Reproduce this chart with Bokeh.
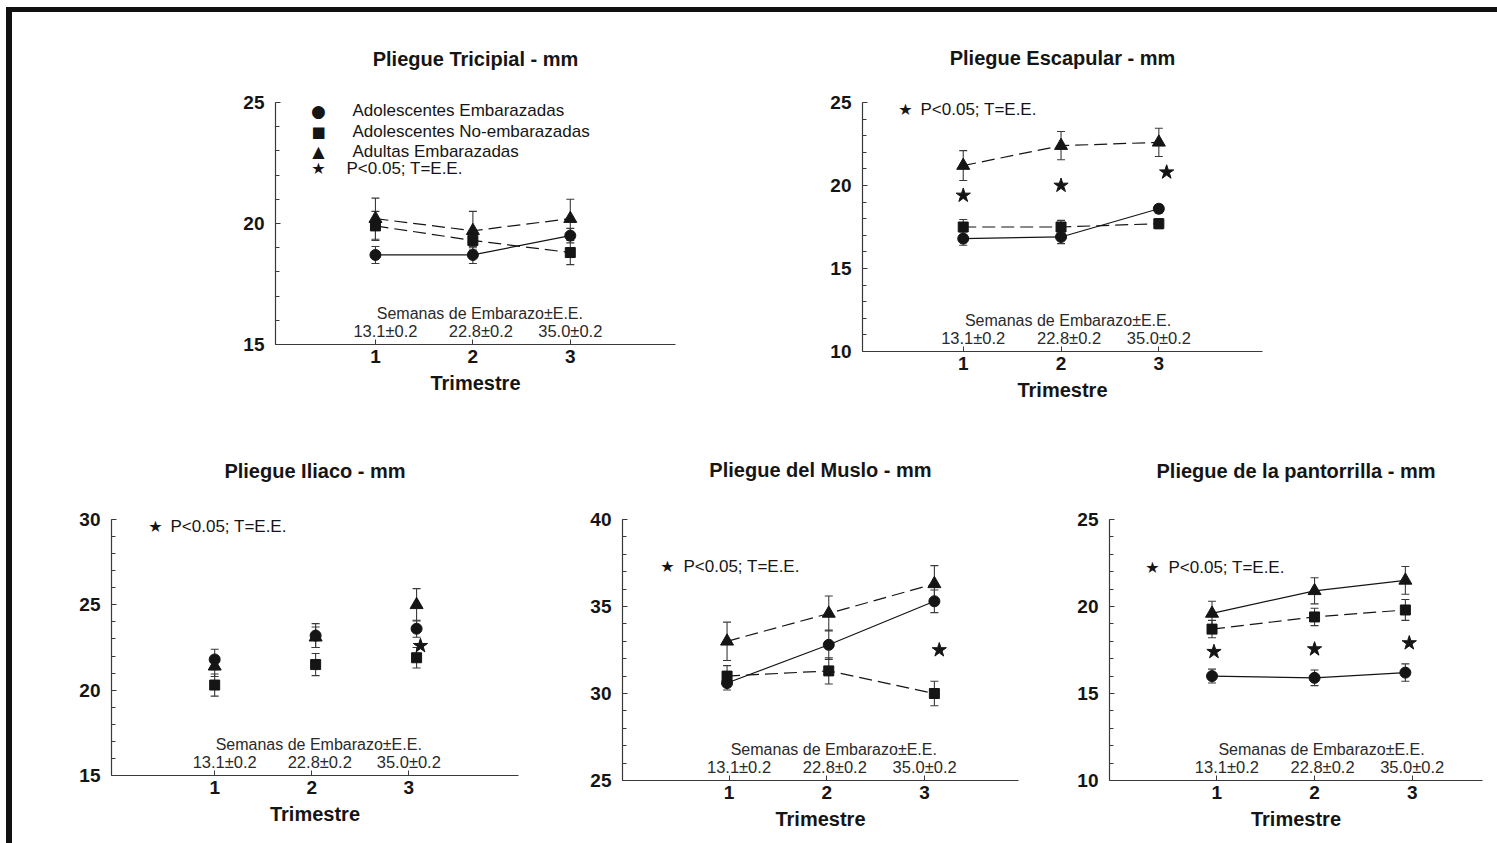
import numpy as np
from bokeh.plotting import figure
from bokeh.models import ColumnDataSource, Range1d, FixedTicker, Whisker, TeeHead, Div
from bokeh.layouts import row, column
from bokeh.core.properties import value
from bokeh.embed import file_html
from bokeh.resources import INLINE

FONT = "Liberation Sans"
SYMBOL_FONT = "DejaVu Sans"
INK = "#151515"
AXIS = "#3a3a3a"

# ---- shared labels ----
trimestre_ticks = [1, 2, 3]
semanas_titulo = "Semanas de Embarazo±E.E."
semanas = ["13.1±0.2", "22.8±0.2", "35.0±0.2"]
grupos = ["Adolescentes Embarazadas", "Adolescentes No-embarazadas", "Adultas Embarazadas"]
nota = "P<0.05; T=E.E."

# ---- Pliegue Tricipial (mm) ----
tri_x = [1, 2, 3]
tri_adol_emb = [18.7, 18.7, 19.5]
tri_adol_emb_ee = [0.35, 0.35, 0.3]
tri_adol_noemb = [19.9, 19.3, 18.8]
tri_adol_noemb_ee = [0.6, 0.3, 0.5]
tri_adultas = [20.2, 19.7, 20.2]
tri_adultas_ee = [0.85, 0.8, 0.8]
tri_sig_x = []
tri_sig_y = []

# ---- Pliegue Escapular (mm) ----
esc_x = [1, 2, 3]
esc_adol_emb = [16.8, 16.9, 18.6]
esc_adol_emb_ee = [0.4, 0.4, 0.25]
esc_adol_noemb = [17.5, 17.5, 17.7]
esc_adol_noemb_ee = [0.45, 0.4, 0.3]
esc_adultas = [21.2, 22.4, 22.6]
esc_adultas_ee = [0.9, 0.85, 0.85]
esc_sig_x = [1.0, 2.0, 3.08]
esc_sig_y = [19.4, 20.0, 20.8]

# ---- Pliegue Iliaco (mm) ----
ili_x = [1.0, 2.04, 3.08]
ili_adol_emb = [21.8, 23.2, 23.6]
ili_adol_emb_ee = [0.6, 0.7, 0.5]
ili_adol_noemb = [20.3, 21.5, 21.9]
ili_adol_noemb_ee = [0.65, 0.65, 0.6]
ili_adultas = [21.4, 23.1, 25.0]
ili_adultas_ee = [0.6, 0.6, 0.95]
ili_sig_x = [3.12]
ili_sig_y = [22.6]

# ---- Pliegue del Muslo (mm) ----
mus_x = [0.98, 2.02, 3.1]
mus_adol_emb = [30.6, 32.8, 35.3]
mus_adol_emb_ee = [0.4, 0.85, 0.65]
mus_adol_noemb = [31.0, 31.3, 30.0]
mus_adol_noemb_ee = [0.6, 0.75, 0.7]
mus_adultas = [33.0, 34.6, 36.3]
mus_adultas_ee = [1.1, 1.0, 1.05]
mus_sig_x = [3.15]
mus_sig_y = [32.5]

# ---- Pliegue de la pantorrilla (mm) ----
pan_x = [0.95, 2.0, 2.93]
pan_adol_emb = [16.0, 15.9, 16.2]
pan_adol_emb_ee = [0.4, 0.45, 0.5]
pan_adol_noemb = [18.7, 19.4, 19.8]
pan_adol_noemb_ee = [0.5, 0.5, 0.6]
pan_adultas = [19.6, 20.9, 21.5]
pan_adultas_ee = [0.7, 0.75, 0.8]
pan_sig_x = [0.97, 2.0, 2.97]
pan_sig_y = [17.4, 17.55, 17.9]

SOLID = "solid"
DASH = "13 6"


def key_entry(p, x0, y1, symbol, symbol_size, dx, dy, label, label_dx):
    """One key row pinned to the top-left corner of the plot frame (pixel offsets)."""
    p.text(x=[x0], y=[y1], text=[symbol], x_offset=dx, y_offset=dy,
           text_align="center", text_baseline="middle", text_font=value(SYMBOL_FONT),
           text_font_size=symbol_size, text_color=INK)
    p.text(x=[x0], y=[y1], text=[label], x_offset=label_dx, y_offset=dy,
           text_align="left", text_baseline="middle", text_font=value(FONT),
           text_font_size="17px", text_color=INK)


def make_panel(title, xs, groups, sig_x, sig_y, y_lo, y_hi, x_lo, x_hi,
               frame_w, frame_h, borders, title_standoff, note=None, full_key=False):
    bl, br, bt, bb = borders
    p = figure(frame_width=frame_w, frame_height=frame_h,
               min_border_left=bl, min_border_right=br,
               min_border_top=bt, min_border_bottom=bb,
               x_range=Range1d(x_lo, x_hi), y_range=Range1d(y_lo, y_hi),
               output_backend="svg", toolbar_location=None,
               background_fill_color="white", border_fill_color="white")
    p.outline_line_color = None
    p.xgrid.visible = False
    p.ygrid.visible = False

    p.title.text = title
    p.title.align = "center"
    p.title.vertical_align = "top"
    p.title.text_font = FONT
    p.title.text_font_size = "20px"
    p.title.text_font_style = "bold"
    p.title.text_color = INK
    p.title.standoff = title_standoff

    xa = p.xaxis[0]
    ya = p.yaxis[0]
    xa.ticker = FixedTicker(ticks=trimestre_ticks)
    ya.ticker = FixedTicker(ticks=list(range(y_lo, y_hi + 1, 5)),
                            minor_ticks=list(range(y_lo, y_hi + 1)))
    for ax in (xa, ya):
        ax.axis_line_color = AXIS
        ax.axis_line_width = 1.2
        ax.major_tick_in = 5
        ax.major_tick_out = 0
        ax.minor_tick_in = 4
        ax.minor_tick_out = 0
        ax.major_tick_line_color = AXIS
        ax.minor_tick_line_color = AXIS
        ax.major_label_text_font = FONT
        ax.major_label_text_font_style = "bold"
        ax.major_label_text_font_size = "19px"
        ax.major_label_text_color = INK
    xa.minor_tick_line_color = None
    xa.major_label_standoff = 5
    ya.major_label_standoff = 11
    xa.axis_label = "Trimestre"
    xa.axis_label_text_font = FONT
    xa.axis_label_text_font_style = "bold"
    xa.axis_label_text_font_size = "20px"
    xa.axis_label_text_color = INK
    xa.axis_label_standoff = 6

    # gestational weeks printed just above the x axis
    p.text(x=[2], y=[y_lo], text=[semanas_titulo], x_offset=7, y_offset=-31,
           text_align="center", text_baseline="middle", text_font=value(FONT),
           text_font_size="16px", text_color="#2a2a2a")
    p.text(x=trimestre_ticks, y=[y_lo] * 3, text=semanas, x_offset=[10, 8, 0], y_offset=-14,
           text_align="center", text_baseline="middle", text_font=value(FONT),
           text_font_size="16.5px", text_color="#2a2a2a")

    for marker, mean, ee, dash, size in groups:
        src = ColumnDataSource(dict(x=xs, y=mean,
                                    upper=np.add(mean, ee), lower=np.subtract(mean, ee)))
        p.add_layout(Whisker(source=src, base="x", upper="upper", lower="lower",
                             line_color=AXIS, line_width=1.1,
                             upper_head=TeeHead(size=8, line_color=AXIS, line_width=1.1),
                             lower_head=TeeHead(size=8, line_color=AXIS, line_width=1.1)))
        if dash is not None:
            p.line("x", "y", source=src, line_color=INK, line_width=1.2, line_dash=dash)
        p.scatter("x", "y", source=src, marker=marker, size=size,
                  fill_color=INK, line_color=INK)

    star_src = ColumnDataSource(dict(x=sig_x, y=sig_y))
    p.scatter("x", "y", source=star_src, marker="star", size=15,
              fill_color=INK, line_color=INK)

    if full_key:
        symbols = [("●", "17px"), ("■", "15px"), ("▲", "16px")]
        for (sym, size), name, dy in zip(symbols, grupos, [8, 29, 49]):
            key_entry(p, x_lo, y_hi, sym, size, 43, dy, name, 77)
        key_entry(p, x_lo, y_hi, "★", "16px", 43, 66, nota, 71)
    else:
        dx, dy, label_dx = note
        key_entry(p, x_lo, y_hi, "★", "16px", dx, dy, nota, label_dx)
    return p


def groups(emb, emb_ee, noemb, noemb_ee, adult, adult_ee, styles):
    return [("circle", emb, emb_ee, styles[0], 11),
            ("square", noemb, noemb_ee, styles[1], 10),
            ("triangle", adult, adult_ee, styles[2], 13)]


p_tri = make_panel("Pliegue Tricipial - mm", tri_x,
                   groups(tri_adol_emb, tri_adol_emb_ee, tri_adol_noemb, tri_adol_noemb_ee,
                          tri_adultas, tri_adultas_ee, (SOLID, DASH, DASH)),
                   tri_sig_x, tri_sig_y, 15, 25, -0.026, 4.08,
                   400, 242, (263, 105, 88, 78), 62, full_key=True)

p_esc = make_panel("Pliegue Escapular - mm", esc_x,
                   groups(esc_adol_emb, esc_adol_emb_ee, esc_adol_noemb, esc_adol_noemb_ee,
                          esc_adultas, esc_adultas_ee, (SOLID, DASH, DASH)),
                   esc_sig_x, esc_sig_y, 10, 25, -0.03, 4.06,
                   400, 249, (82, 235, 90, 69), 64, note=(43, 7, 58))

p_ili = make_panel("Pliegue Iliaco - mm", ili_x,
                   groups(ili_adol_emb, ili_adol_emb_ee, ili_adol_noemb, ili_adol_noemb_ee,
                          ili_adultas, ili_adultas_ee, (None, None, None)),
                   ili_sig_x, ili_sig_y, 15, 30, -0.063, 4.13,
                   407, 256, (99, 52, 97, 70), 71, note=(44, 7, 59))

p_mus = make_panel("Pliegue del Muslo - mm", mus_x,
                   groups(mus_adol_emb, mus_adol_emb_ee, mus_adol_noemb, mus_adol_noemb_ee,
                          mus_adultas, mus_adultas_ee, (SOLID, DASH, DASH)),
                   mus_sig_x, mus_sig_y, 25, 40, -0.089, 3.96,
                   396, 261, (52, 42, 99, 63), 73, note=(45, 47, 61))

p_pan = make_panel("Pliegue de la pantorrilla - mm", pan_x,
                   groups(pan_adol_emb, pan_adol_emb_ee, pan_adol_noemb, pan_adol_noemb_ee,
                          pan_adultas, pan_adultas_ee, (SOLID, DASH, SOLID)),
                   pan_sig_x, pan_sig_y, 10, 25, -0.10, 3.72,
                   373, 261, (49, 15, 97, 65), 71, note=(43, 48, 59))


# dark frame along the top and left edges of the sheet
def block(w, h, color=None):
    styles = {"background-color": color} if color else {}
    return Div(text="", width=w, height=h, margin=0, styles=styles)


sheet = column(
    block(1497, 7),
    row(block(6, 5), block(1491, 5, "#111")),
    row(block(6, 831), block(6, 831, "#111"),
        column(row(p_tri, p_esc), row(p_ili, p_mus, p_pan))),
)

open("out.html", "w").write(file_html(sheet, INLINE))
